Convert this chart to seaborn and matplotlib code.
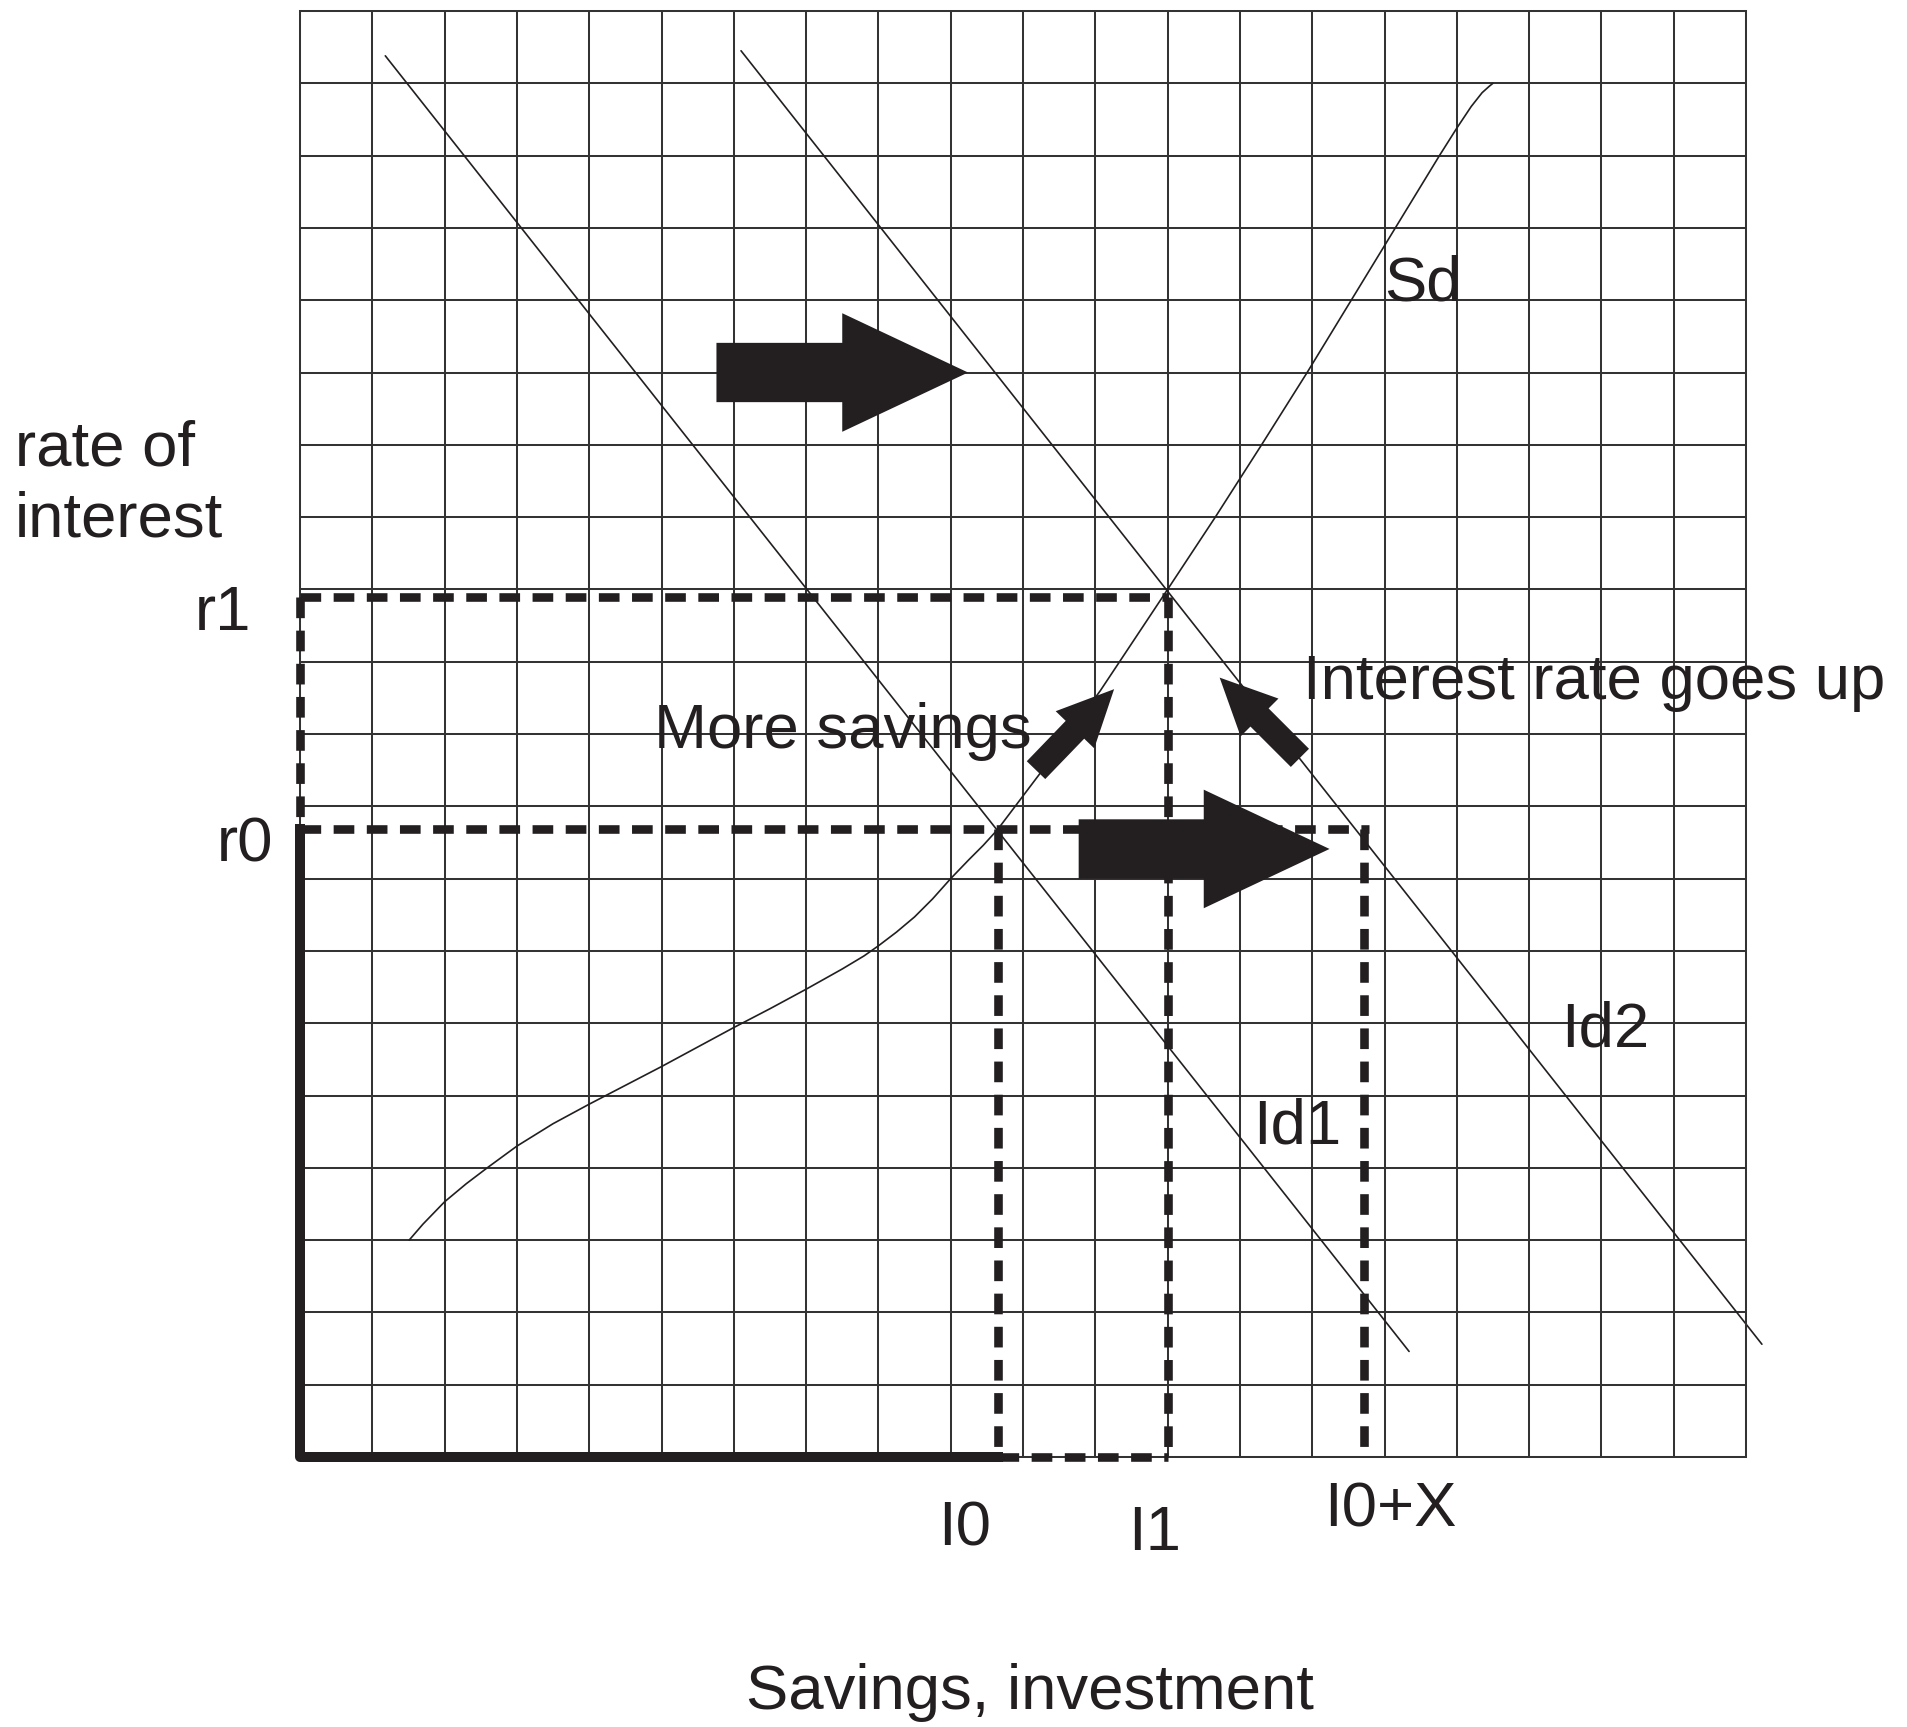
import matplotlib
matplotlib.use("Agg")
import matplotlib.pyplot as plt
import seaborn as sns
import pandas as pd
from matplotlib.patches import FancyArrow

# ---------------- data (grid units, 20 x 20 cells) ----------------
id1_x = [1.18, 15.34]
id1_y = [19.38, 1.46]
id2_x = [6.10, 20.22]
id2_y = [19.45, 1.56]
sd_x = [1.51, 1.70, 2.00, 2.30, 2.59, 3.00, 3.50, 4.00, 4.50, 5.00, 5.50, 6.00,
        6.50, 7.00, 7.50, 7.80, 8.00, 8.25, 8.50, 8.75, 9.00, 9.25, 9.45, 9.65,
        10.30, 11.07, 12.00, 12.66, 13.30, 13.93, 14.54, 15.15, 15.76, 16.00,
        16.20, 16.35, 16.45, 16.50]
sd_y = [3.00, 3.22, 3.53, 3.78, 4.00, 4.30, 4.61, 4.88, 5.14, 5.40, 5.67, 5.94,
        6.20, 6.47, 6.75, 6.93, 7.07, 7.26, 7.47, 7.72, 8.00, 8.26, 8.46, 8.68,
        9.54, 10.60, 12.00, 13.00, 14.00, 15.00, 16.00, 17.00, 18.00, 18.38,
        18.68, 18.87, 18.96, 19.00]
r0, r1 = 8.68, 11.90
i0, i1, i0x = 9.65, 12.00, 14.72

# big shift arrows: (tail x, tail y, dx, dy)
big_arrows = [(5.76, 15.00, 3.48, 0.0), (10.77, 8.41, 3.47, 0.0)]
# small diagonal arrows
small_arrows = [(10.18, 9.50, 1.08, 1.12), (13.83, 9.67, -1.11, 1.11)]

ink = "#231f20"
gridc = "#333333"

sns.set_theme(style="white")
plt.rcParams["font.family"] = ["Liberation Sans", "DejaVu Sans"]

fig = plt.figure(figsize=(19.08, 17.27), dpi=100)
ax = fig.add_axes([300 / 1908, (1727 - 1457) / 1727, 1446 / 1908, 1446 / 1727])
ax.set_xlim(0, 20)
ax.set_ylim(0, 20)
ax.set_xticks(range(21))
ax.set_yticks(range(21))
ax.tick_params(length=0, labelbottom=False, labelleft=False)
ax.grid(True, color=gridc, lw=1.45)
ax.set_axisbelow(True)
for sp in ax.spines.values():
    sp.set_visible(True)
    sp.set_color(gridc)
    sp.set_linewidth(1.45)

# curves
df1 = pd.DataFrame({"x": id1_x, "y": id1_y})
df2 = pd.DataFrame({"x": id2_x, "y": id2_y})
dfs = pd.DataFrame({"x": sd_x, "y": sd_y})
for d in (df1, df2, dfs):
    sns.lineplot(data=d, x="x", y="y", ax=ax, color=ink, lw=1.2,
                 sort=False, estimator=None, clip_on=False)
ax.set_xlabel("")
ax.set_ylabel("")

# dashed reference lines
dash = (0, (2.4, 1.45))
dkw = dict(color=ink, lw=6.2, linestyle=dash, dash_capstyle="butt",
           clip_on=False, zorder=4)
ax.plot([0, i1], [r1, r1], **dkw)
ax.plot([0, 0], [r1, r0], **dkw)
ax.plot([0, i0x + 0.07], [r0, r0], **dkw)
ax.plot([i0, i0], [r0, 0], **dkw)
ax.plot([i1, i1], [r1, 0], **dkw)
ax.plot([i0x, i0x], [r0, 0], **dkw)
ax.plot([i0, i1], [0, 0], **dkw)
# solid thick
skw = dict(color=ink, lw=7.2, solid_capstyle="projecting", clip_on=False, zorder=4)
ax.plot([0, 0, i0], [r0, 0, 0], **skw)

# arrows
for (x, y, dx, dy) in big_arrows:
    ax.add_patch(FancyArrow(x, y, dx, dy, width=0.82, head_width=1.64,
                            head_length=1.74, length_includes_head=True,
                            color=ink, lw=0, zorder=5))
for (x, y, dx, dy) in small_arrows:
    ax.add_patch(FancyArrow(x, y, dx, dy, width=0.355, head_width=0.74,
                            head_length=0.78, length_includes_head=True,
                            color=ink, lw=0, zorder=5))

# texts
fs = 45.7
tkw = dict(fontsize=fs, color=ink, va="baseline", clip_on=False, zorder=6)
ax.text(-3.94, 13.72, "rate of", ha="left", **tkw)
ax.text(-3.94, 12.73, "interest", ha="left", **tkw)
ax.text(-0.67, 11.44, "r1", ha="right", **tkw)
ax.text(-0.37, 8.23, "r0", ha="right", **tkw)
ax.text(15.00, 16.00, "Sd", ha="left", **tkw)
ax.text(13.87, 10.48, "Interest rate goes up", ha="left", **tkw)
ax.text(4.90, 9.80, "More savings", ha="left", **tkw)
ax.text(17.44, 5.68, "Id2", ha="left", **tkw)
ax.text(13.18, 4.33, "Id1", ha="left", **tkw)
ax.text(8.83, -1.23, "I0", ha="left", **tkw)
ax.text(11.45, -1.29, "I1", ha="left", **tkw)
ax.text(14.17, -0.96, "I0+X", ha="left", **tkw)
ax.text(10.10, -3.49, "Savings, investment", ha="center", **tkw)

fig.savefig("out.png", dpi=100)
